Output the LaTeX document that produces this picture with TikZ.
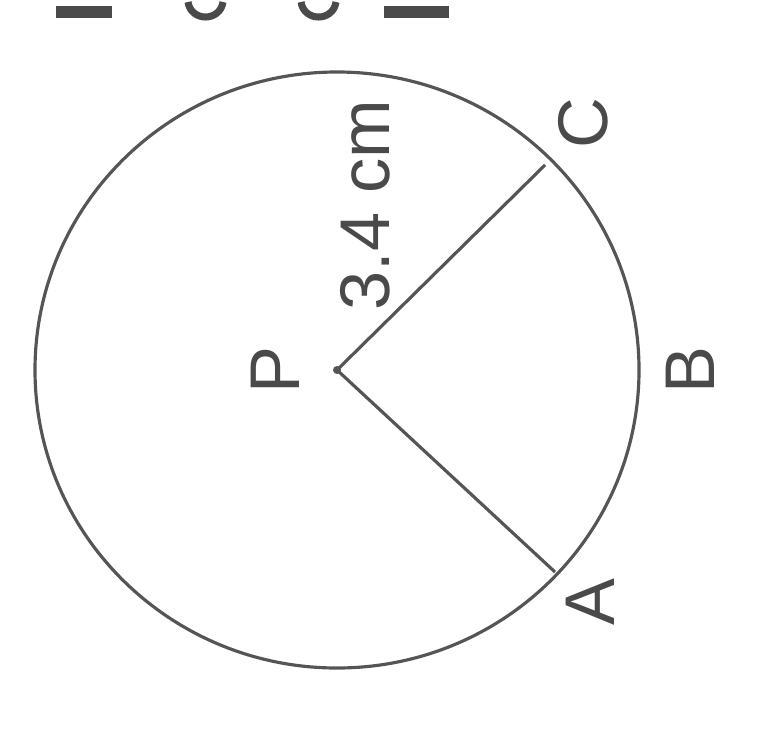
\documentclass[tikz,border=0pt]{standalone}
\usepackage{fontspec}
\setmainfont{Liberation Sans}
\definecolor{ink}{HTML}{555555}
\definecolor{txt}{HTML}{4A4A4A}
\begin{document}
\begin{tikzpicture}[x=0.01cm,y=-0.01cm,
  edge/.style={draw=ink,line width=0.9pt},
  lbl/.style={text=txt,font=\fontsize{20pt}{22pt}\selectfont,rotate=90,inner sep=0pt}]
\useasboundingbox (0,0) rectangle (765,752);
% cut-off fragments at the top edge
\fill[txt] (56,6) rectangle (112,18);
\fill[txt] (384,6) rectangle (449,18);
\draw[txt,line width=2pt] (188,2) .. controls (191,22) and (220,22) .. (223,2);
\draw[txt,line width=2pt] (301,2) .. controls (304,22) and (333,22) .. (336,2);
% circle
\coordinate (P) at (337,370);
\draw[edge] (P) circle [x radius=302, y radius=298];
\coordinate (C) at (545,165);
\coordinate (A) at (555,572);
\draw[edge] (P) -- (C);
\draw[edge] (P) -- (A);
\fill[ink] (P) circle (4);
\node[lbl] (lP) at (275,370) {P};
\node[lbl] (lC) at (583,123) {C};
\node[lbl] (lA) at (590,602) {A};
\node[lbl] (lB) at (690,370) {B};
\node[lbl] (ld) at (365,205) {3.4 cm};
\end{tikzpicture}
\end{document}
